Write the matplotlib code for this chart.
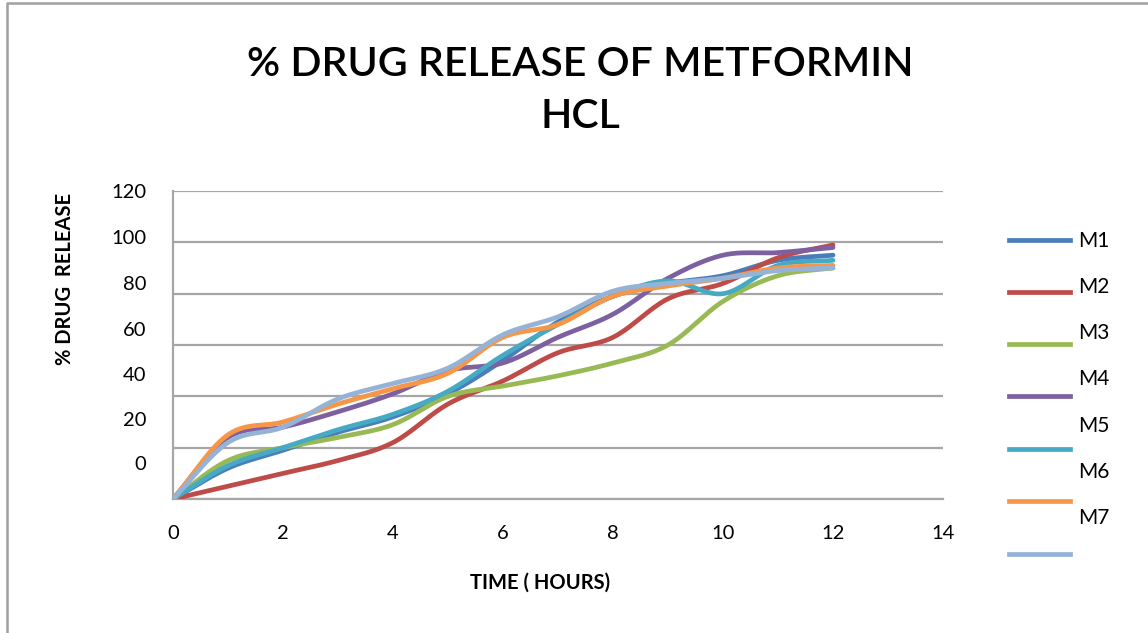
import numpy as np
import matplotlib.pyplot as plt
from matplotlib.lines import Line2D

# hourly readings, % drug release
hours = [0, 1, 2, 3, 4, 5, 6, 7, 8, 9, 10, 11, 12]
M1 = [0, 12, 19, 26, 32, 41, 54, 69, 79, 84, 87, 93, 95]
M2 = [0, 5, 10, 15, 22, 37, 46, 57, 63, 78, 84, 94, 99]
M3 = [0, 15, 20, 24, 29, 40, 44, 48, 53, 60, 77, 87, 90]
M4 = [0, 24, 28, 34, 41, 50, 53, 63, 72, 86, 95, 96, 98]
M5 = [0, 13, 20, 27, 33, 42, 56, 68, 79, 85, 80, 91, 93]
M6 = [0, 25, 30, 37, 43, 49, 63, 68, 79, 83, 86, 90, 91]
M7 = [0, 22, 28, 39, 45, 51, 64, 71, 81, 84, 86, 89, 90]

names = ["M1", "M2", "M3", "M4", "M5", "M6", "M7"]
series = [M1, M2, M3, M4, M5, M6, M7]
colors = ["#4A7EBB", "#BE4B48", "#98B954", "#7D60A0", "#46AAC5", "#F79646", "#95B3D7"]

xticks = [0, 2, 4, 6, 8, 10, 12, 14]
yticks = [0, 20, 40, 60, 80, 100, 120]

plt.rcParams['font.family'] = ['Lato', 'DejaVu Sans']


def smooth(x, y, n=20):
    # catmull-rom style smoothing, like the spreadsheet "smoothed line"
    x = np.asarray(x, float)
    y = np.asarray(y, float)
    px = np.concatenate([[2 * x[0] - x[1]], x, [2 * x[-1] - x[-2]]])
    py = np.concatenate([[2 * y[0] - y[1]], y, [2 * y[-1] - y[-2]]])
    xs, ys = [], []
    t = np.linspace(0, 1, n, endpoint=False)
    for i in range(1, len(px) - 2):
        for p, out in ((px, xs), (py, ys)):
            p0, p1, p2, p3 = p[i - 1], p[i], p[i + 1], p[i + 2]
            out.extend(0.5 * ((2 * p1) + (-p0 + p2) * t
                              + (2 * p0 - 5 * p1 + 4 * p2 - p3) * t ** 2
                              + (-p0 + 3 * p1 - 3 * p2 + p3) * t ** 3))
    xs.append(x[-1])
    ys.append(y[-1])
    return np.array(xs), np.array(ys)


W, H = 1148, 633
fig = plt.figure(figsize=(W / 100, H / 100), dpi=100)
ax = fig.add_axes([173 / W, 1 - 499 / H, (943 - 173) / W, (499 - 191) / H])

for vals, c in zip(series, colors):
    sx, sy = smooth(hours, vals)
    ax.plot(sx, sy, color=c, lw=3.4, solid_capstyle='round', zorder=3)

ax.set_xlim(0, 14)
ax.set_ylim(0, 120)
ax.set_xticks(xticks)
ax.set_xticklabels([str(v) for v in xticks], fontsize=14.5)
ax.set_yticks(yticks)
ax.set_yticklabels([])
ax.tick_params(axis='both', length=0)
ax.tick_params(axis='x', pad=19)
ax.grid(axis='y', color='#A6A6A6', lw=1.6)
for s in ['top', 'right']:
    ax.spines[s].set_visible(False)
for s in ['left', 'bottom']:
    ax.spines[s].set_color('#A6A6A6')
    ax.spines[s].set_linewidth(1.6)
ax.set_axisbelow(True)

# y tick labels sit off their gridlines in the original
ylabel_px = [465, 420, 376, 330, 284, 238, 192]
for v, yp in zip(yticks, ylabel_px):
    fig.text(146 / W, 1 - yp / H, str(v), ha='right', va='center', fontsize=14.5)

fig.text(580 / W, 1 - 91 / H, "% DRUG RELEASE OF METFORMIN\nHCL", ha='center', va='center',
         fontsize=29.5, fontweight='semibold', linespacing=1.5)
fig.text(65 / W, 1 - 279 / H, "% DRUG  RELEASE", rotation=90, ha='center', va='center',
         fontsize=14.5, fontweight='bold')
fig.text(540 / W, 1 - 583 / H, "TIME ( HOURS)", ha='center', va='center',
         fontsize=14.5, fontweight='bold')

# legend, drawn by hand to keep the odd label offsets
line_px = [240, 292, 344, 396, 449, 501, 554]
label_px = [241, 287, 333, 379, 426, 472, 518]
for nm, c, lp, tp in zip(names, colors, line_px, label_px):
    fig.add_artist(Line2D([1009 / W, 1070 / W], [1 - lp / H, 1 - lp / H], color=c, lw=3.4))
    fig.text(1078 / W, 1 - tp / H, nm, ha='left', va='center', fontsize=15)

# outer chart frame
fig.add_artist(Line2D([7 / W, 7 / W, 1], [0, 1 - 3 / H, 1 - 3 / H], color='#A0A0A0', lw=1.8))

fig.savefig("out.png", dpi=100)
